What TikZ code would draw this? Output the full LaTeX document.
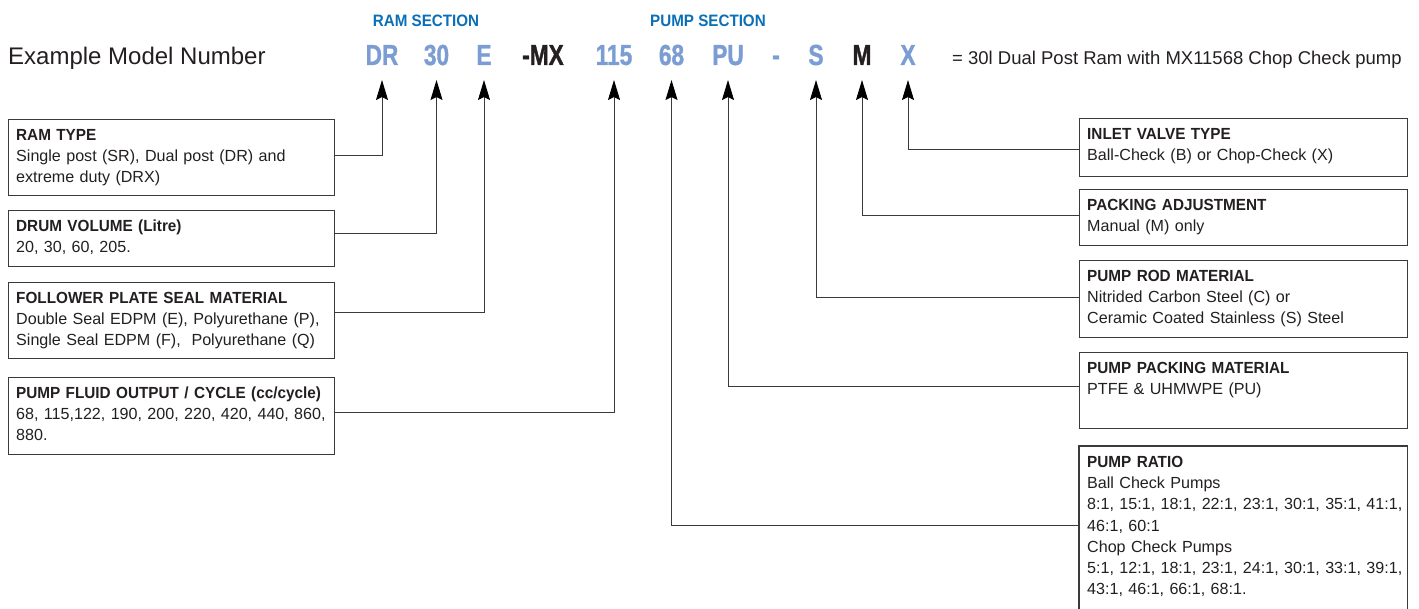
\documentclass[tikz,border=0pt]{standalone}
\usepackage{fontspec}
\setmainfont{Liberation Sans}
\newfontfamily\codefont{Liberation Sans}[FakeStretch=0.78,FakeBold=1.2]
\newfontfamily\secfont{Liberation Sans}[FakeStretch=0.92]
\newfontfamily\headfont{Liberation Sans}[FakeStretch=0.95]
\usetikzlibrary{arrows.meta,calc}
\definecolor{secblue}{HTML}{0A6FB7}
\definecolor{codeblue}{HTML}{7B9DD3}
\definecolor{linegray}{HTML}{3A3A3A}
\definecolor{ink}{HTML}{231F20}
\newcommand{\bhead}[1]{{\headfont\bfseries #1}}
\begin{document}
\begin{tikzpicture}[x=1pt,y=-1pt,
  code/.style={font=\codefont\bfseries\fontsize{29}{29}\selectfont, text=codeblue, anchor=base, inner sep=0},
  codeblack/.style={code, text=ink},
  sec/.style={font=\secfont\bfseries\fontsize{16.5}{16.5}\selectfont, text=secblue, anchor=base, inner sep=0},
  boxframe/.style={draw=linegray, line width=1.1pt, anchor=north west, inner sep=0},
  boxtext/.style={font=\fontsize{16.1}{21.2}\selectfont, text=ink, anchor=base west, inner sep=0, text width=322pt, align=left},
  conn/.style={draw=linegray, line width=1pt, -{Stealth[length=20pt,width=12pt,inset=3pt,fill=black,color=black]}}
]
\useasboundingbox (0,0) rectangle (1419,609);

% header
\node[font=\fontsize{24}{24}\selectfont, text=ink, anchor=base west, inner sep=0] (title) at (8,64.5) {Example Model Number};
\node[sec] (ramsec) at (426,27) {RAM SECTION};
\node[sec] (pumpsec) at (708,27) {PUMP SECTION};

\node[code] (cDR) at (382,65) {DR};
\node[code] (c30) at (436.5,65) {30};
\node[code] (cE) at (484,65) {E};
\node[codeblack] (cMX) at (543,65) {-MX};
\node[code] (c115) at (614,65) {115};
\node[code] (c68) at (671.5,65) {68};
\node[code] (cPU) at (728,65) {PU};
\node[code] (cdash) at (776,65) {-};
\node[code] (cS) at (816,65) {S};
\node[codeblack] (cM) at (862,65) {M};
\node[code] (cX) at (908,65) {X};

\node[font=\fontsize{18.5}{18.5}\selectfont, text=ink, anchor=base west, inner sep=0] (result) at (952,65) {= 30l Dual Post Ram with MX11568 Chop Check pump};

% arrow tips
\foreach \n in {DR,30,E,115,68,PU,S,M,X}{
  \coordinate (t\n) at ($(c\n.base)+(0,15)$);
}

% left boxes
\node[boxframe, minimum width=326pt, minimum height=76pt] (ram) at (8,119) {};
\node[boxtext] (ramtxt) at ([xshift=8pt,yshift=-21.5pt]ram.north west) {\bhead{RAM TYPE}\\Single post (SR), Dual post (DR) and\\extreme duty (DRX)};

\node[boxframe, minimum width=326pt, minimum height=56pt] (drum) at (8,210) {};
\node[boxtext] (drumtxt) at ([xshift=8pt,yshift=-21.5pt]drum.north west) {\bhead{DRUM VOLUME (Litre)}\\20, 30, 60, 205.};

\node[boxframe, minimum width=326pt, minimum height=76pt] (foll) at (8,282) {};
\node[boxtext] (folltxt) at ([xshift=8pt,yshift=-21.5pt]foll.north west) {\bhead{FOLLOWER PLATE SEAL MATERIAL}\\Double Seal EDPM (E), Polyurethane (P),\\Single Seal EDPM (F),\ \ Polyurethane (Q)};

\node[boxframe, minimum width=326pt, minimum height=77pt] (fluid) at (8,377) {};
\node[boxtext] (fluidtxt) at ([xshift=8pt,yshift=-21.5pt]fluid.north west) {\bhead{PUMP FLUID OUTPUT / CYCLE (cc/cycle)}\\68, 115,122, 190, 200, 220, 420, 440, 860,\\880.};

% right boxes
\node[boxframe, minimum width=328pt, minimum height=58pt] (inlet) at (1079,118) {};
\node[boxtext] (inlettxt) at ([xshift=8pt,yshift=-21.5pt]inlet.north west) {\bhead{INLET VALVE TYPE}\\Ball-Check (B) or Chop-Check (X)};

\node[boxframe, minimum width=328pt, minimum height=56pt] (pack) at (1079,189) {};
\node[boxtext] (packtxt) at ([xshift=8pt,yshift=-21.5pt]pack.north west) {\bhead{PACKING ADJUSTMENT}\\Manual (M) only};

\node[boxframe, minimum width=328pt, minimum height=77pt] (rod) at (1079,260) {};
\node[boxtext] (rodtxt) at ([xshift=8pt,yshift=-21.5pt]rod.north west) {\bhead{PUMP ROD MATERIAL}\\Nitrided Carbon Steel (C) or\\Ceramic Coated Stainless (S) Steel};

\node[boxframe, minimum width=328pt, minimum height=76pt] (pmat) at (1079,352) {};
\node[boxtext] (pmattxt) at ([xshift=8pt,yshift=-21.5pt]pmat.north west) {\bhead{PUMP PACKING MATERIAL}\\PTFE \& UHMWPE (PU)};

\node[anchor=north west, inner sep=0, minimum width=328pt, minimum height=175pt] (ratio) at (1079,446) {};
\draw[draw=linegray, line width=1.1pt] (ratio.south west) -- (ratio.north west) -- (ratio.north east) -- (ratio.south east);
\node[boxtext] (ratiotxt) at ([xshift=8pt,yshift=-21.5pt]ratio.north west) {\bhead{PUMP RATIO}\\Ball Check Pumps\\8:1, 15:1, 18:1, 22:1, 23:1, 30:1, 35:1, 41:1,\\46:1, 60:1\\Chop Check Pumps\\5:1, 12:1, 18:1, 23:1, 24:1, 30:1, 33:1, 39:1,\\43:1, 46:1, 66:1, 68:1.};

% connectors
\draw[conn] ([yshift=-37pt]ram.north east) -| (tDR);
\draw[conn] ([yshift=-24pt]drum.north east) -| (t30);
\draw[conn] ([yshift=-31pt]foll.north east) -| (tE);
\draw[conn] ([yshift=-36pt]fluid.north east) -| (t115);
\draw[conn] ([yshift=-32pt]inlet.north west) -| (tX);
\draw[conn] ([yshift=-27pt]pack.north west) -| (tM);
\draw[conn] ([yshift=-38pt]rod.north west) -| (tS);
\draw[conn] ([yshift=-35pt]pmat.north west) -| (tPU);
\draw[conn] ([yshift=-79pt]ratio.north west) -| (t68);
\end{tikzpicture}
\end{document}
